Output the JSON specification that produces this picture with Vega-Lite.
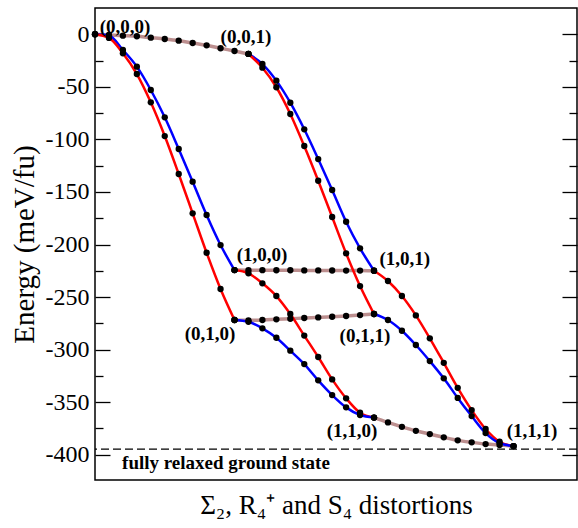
{
  "$schema": "https://vega.github.io/schema/vega-lite/v6.json",
  "width": 482,
  "height": 472,
  "autosize": {"type": "none"},
  "padding": {"left": 95, "top": 8, "right": 1, "bottom": 48},
  "background": "white",
  "config": {
    "view": {"stroke": "black", "strokeWidth": 1.5},
    "font": "Liberation Serif",
    "axis": {"labelFont": "Liberation Serif", "titleFont": "Liberation Serif", "labelColor": "black", "titleColor": "black", "tickColor": "black", "tickWidth": 1.3, "grid": false, "domain": false, "titleFontWeight": "normal"}
  },
  "datasets": {
    "paths": [
      {"e": "AB", "k": "g", "x": 0, "E": 0}, {"e": "AB", "k": "g", "x": 1, "E": -0.7}, {"e": "AB", "k": "g", "x": 2, "E": -1.3}, {"e": "AB", "k": "g", "x": 3, "E": -1.9}, {"e": "AB", "k": "g", "x": 4, "E": -3.2}, {"e": "AB", "k": "g", "x": 5, "E": -4.5}, {"e": "AB", "k": "g", "x": 6, "E": -6.1}, {"e": "AB", "k": "g", "x": 7, "E": -8.3}, {"e": "AB", "k": "g", "x": 8, "E": -10.5}, {"e": "AB", "k": "g", "x": 9, "E": -13.3}, {"e": "AB", "k": "g", "x": 10, "E": -15.9}, {"e": "AB", "k": "g", "x": 11, "E": -18.7},
      {"e": "AC", "k": "b", "x": 0, "E": 0}, {"e": "AC", "k": "b", "x": 1, "E": -1.1}, {"e": "AC", "k": "b", "x": 2, "E": -14.9}, {"e": "AC", "k": "b", "x": 3, "E": -30.8}, {"e": "AC", "k": "b", "x": 4, "E": -53.0}, {"e": "AC", "k": "b", "x": 5, "E": -79.0}, {"e": "AC", "k": "b", "x": 6, "E": -109.1}, {"e": "AC", "k": "b", "x": 7, "E": -140.2}, {"e": "AC", "k": "b", "x": 8, "E": -171.9}, {"e": "AC", "k": "b", "x": 9, "E": -200.5}, {"e": "AC", "k": "b", "x": 10, "E": -224.3},
      {"e": "AD", "k": "r", "x": 0, "E": 0}, {"e": "AD", "k": "r", "x": 1, "E": -3.5}, {"e": "AD", "k": "r", "x": 2, "E": -18.1}, {"e": "AD", "k": "r", "x": 3, "E": -37.8}, {"e": "AD", "k": "r", "x": 4, "E": -64.7}, {"e": "AD", "k": "r", "x": 5, "E": -96.8}, {"e": "AD", "k": "r", "x": 6, "E": -132.9}, {"e": "AD", "k": "r", "x": 7, "E": -170.3}, {"e": "AD", "k": "r", "x": 8, "E": -207.8}, {"e": "AD", "k": "r", "x": 9, "E": -242.3}, {"e": "AD", "k": "r", "x": 10, "E": -271.8},
      {"e": "BE", "k": "b", "x": 11, "E": -18.7}, {"e": "BE", "k": "b", "x": 12, "E": -28.3}, {"e": "BE", "k": "b", "x": 13, "E": -44.1}, {"e": "BE", "k": "b", "x": 14, "E": -65.1}, {"e": "BE", "k": "b", "x": 15, "E": -90.4}, {"e": "BE", "k": "b", "x": 16, "E": -118.7}, {"e": "BE", "k": "b", "x": 17, "E": -148.1}, {"e": "BE", "k": "b", "x": 18, "E": -178.3}, {"e": "BE", "k": "b", "x": 19, "E": -203.6}, {"e": "BE", "k": "b", "x": 20, "E": -224.9},
      {"e": "BF", "k": "r", "x": 11, "E": -18.7}, {"e": "BF", "k": "r", "x": 12, "E": -31.8}, {"e": "BF", "k": "r", "x": 13, "E": -50.4}, {"e": "BF", "k": "r", "x": 14, "E": -75.8}, {"e": "BF", "k": "r", "x": 15, "E": -106.3}, {"e": "BF", "k": "r", "x": 16, "E": -139.3}, {"e": "BF", "k": "r", "x": 17, "E": -173.8}, {"e": "BF", "k": "r", "x": 18, "E": -208.4}, {"e": "BF", "k": "r", "x": 19, "E": -239.5}, {"e": "BF", "k": "r", "x": 20, "E": -266.1},
      {"e": "CE", "k": "g", "x": 10, "E": -224.3}, {"e": "CE", "k": "g", "x": 11, "E": -224.4}, {"e": "CE", "k": "g", "x": 12, "E": -224.4}, {"e": "CE", "k": "g", "x": 13, "E": -224.5}, {"e": "CE", "k": "g", "x": 14, "E": -224.5}, {"e": "CE", "k": "g", "x": 15, "E": -224.6}, {"e": "CE", "k": "g", "x": 16, "E": -224.6}, {"e": "CE", "k": "g", "x": 17, "E": -224.7}, {"e": "CE", "k": "g", "x": 18, "E": -224.8}, {"e": "CE", "k": "g", "x": 19, "E": -224.8}, {"e": "CE", "k": "g", "x": 20, "E": -224.9},
      {"e": "DF", "k": "g", "x": 10, "E": -271.8}, {"e": "DF", "k": "g", "x": 11, "E": -272.1}, {"e": "DF", "k": "g", "x": 12, "E": -271.8}, {"e": "DF", "k": "g", "x": 13, "E": -271.2}, {"e": "DF", "k": "g", "x": 14, "E": -270.6}, {"e": "DF", "k": "g", "x": 15, "E": -269.9}, {"e": "DF", "k": "g", "x": 16, "E": -269.3}, {"e": "DF", "k": "g", "x": 17, "E": -268.7}, {"e": "DF", "k": "g", "x": 18, "E": -268.0}, {"e": "DF", "k": "g", "x": 19, "E": -267.1}, {"e": "DF", "k": "g", "x": 20, "E": -266.1},
      {"e": "CG", "k": "r", "x": 10, "E": -224.3}, {"e": "CG", "k": "r", "x": 11, "E": -227.4}, {"e": "CG", "k": "r", "x": 12, "E": -236.9}, {"e": "CG", "k": "r", "x": 13, "E": -249.0}, {"e": "CG", "k": "r", "x": 14, "E": -266.1}, {"e": "CG", "k": "r", "x": 15, "E": -286.6}, {"e": "CG", "k": "r", "x": 16, "E": -307.0}, {"e": "CG", "k": "r", "x": 17, "E": -328.3}, {"e": "CG", "k": "r", "x": 18, "E": -346.3}, {"e": "CG", "k": "r", "x": 19, "E": -360.0}, {"e": "CG", "k": "r", "x": 20, "E": -364.6},
      {"e": "DG", "k": "b", "x": 10, "E": -271.8}, {"e": "DG", "k": "b", "x": 11, "E": -273.5}, {"e": "DG", "k": "b", "x": 12, "E": -279.7}, {"e": "DG", "k": "b", "x": 13, "E": -288.7}, {"e": "DG", "k": "b", "x": 14, "E": -301.0}, {"e": "DG", "k": "b", "x": 15, "E": -313.7}, {"e": "DG", "k": "b", "x": 16, "E": -329.2}, {"e": "DG", "k": "b", "x": 17, "E": -343.2}, {"e": "DG", "k": "b", "x": 18, "E": -354.9}, {"e": "DG", "k": "b", "x": 19, "E": -362.2}, {"e": "DG", "k": "b", "x": 20, "E": -364.6},
      {"e": "GH", "k": "g", "x": 20, "E": -364.6}, {"e": "GH", "k": "g", "x": 21, "E": -369.2}, {"e": "GH", "k": "g", "x": 22, "E": -373.4}, {"e": "GH", "k": "g", "x": 23, "E": -377.2}, {"e": "GH", "k": "g", "x": 24, "E": -380.3}, {"e": "GH", "k": "g", "x": 25, "E": -383.4}, {"e": "GH", "k": "g", "x": 26, "E": -386.3}, {"e": "GH", "k": "g", "x": 27, "E": -388.2}, {"e": "GH", "k": "g", "x": 28, "E": -389.8}, {"e": "GH", "k": "g", "x": 29, "E": -390.8}, {"e": "GH", "k": "g", "x": 30, "E": -391.7},
      {"e": "EH", "k": "r", "x": 20, "E": -224.9}, {"e": "EH", "k": "r", "x": 21, "E": -234.7}, {"e": "EH", "k": "r", "x": 22, "E": -249.0}, {"e": "EH", "k": "r", "x": 23, "E": -267.4}, {"e": "EH", "k": "r", "x": 24, "E": -289.2}, {"e": "EH", "k": "r", "x": 25, "E": -312.5}, {"e": "EH", "k": "r", "x": 26, "E": -336.3}, {"e": "EH", "k": "r", "x": 27, "E": -357.5}, {"e": "EH", "k": "r", "x": 28, "E": -375.5}, {"e": "EH", "k": "r", "x": 29, "E": -387.6}, {"e": "EH", "k": "r", "x": 30, "E": -391.7},
      {"e": "FH", "k": "b", "x": 20, "E": -266.1}, {"e": "FH", "k": "b", "x": 21, "E": -271.8}, {"e": "FH", "k": "b", "x": 22, "E": -282.0}, {"e": "FH", "k": "b", "x": 23, "E": -295.6}, {"e": "FH", "k": "b", "x": 24, "E": -310.9}, {"e": "FH", "k": "b", "x": 25, "E": -327.3}, {"e": "FH", "k": "b", "x": 26, "E": -345.9}, {"e": "FH", "k": "b", "x": 27, "E": -363.2}, {"e": "FH", "k": "b", "x": 28, "E": -379.4}, {"e": "FH", "k": "b", "x": 29, "E": -388.9}, {"e": "FH", "k": "b", "x": 30, "E": -391.7}
    ],
    "labels": [
      {"t": "(0,0,0)", "x": 2.15, "E": 7},
      {"t": "(0,0,1)", "x": 10.82, "E": -2.6},
      {"t": "(1,0,0)", "x": 11.97, "E": -210},
      {"t": "(1,0,1)", "x": 22.2, "E": -213.8},
      {"t": "(0,1,1)", "x": 19.35, "E": -287},
      {"t": "(0,1,0)", "x": 8.24, "E": -285.1},
      {"t": "(1,1,0)", "x": 18.42, "E": -377.4},
      {"t": "(1,1,1)", "x": 31.33, "E": -377.4}
    ],
    "ground": [{"t": "fully relaxed ground state", "x": 1.94, "E": -394.6, "lE": -407.9}]
  },
  "resolve": {"axis": {"y": "independent"}},
  "layer": [
    {
      "data": {"name": "paths"},
      "transform": [{"filter": "datum.k === 'g'"}],
      "mark": {"type": "line", "interpolate": "monotone", "strokeWidth": 3.5, "color": "#bc8f8f"},
      "encoding": {
        "x": {"field": "x", "type": "quantitative", "scale": {"domain": [0, 34.55], "nice": false, "zero": false}, "axis": {"title": "Σ₂, R₄⁺ and S₄ distortions", "labels": false, "ticks": false, "domain": false, "titleFont": "Liberation Serif", "titleFontSize": 27, "titlePadding": 12}},
        "y": {"field": "E", "type": "quantitative", "scale": {"domain": [-424, 25], "nice": false, "zero": false}, "axis": {"orient": "left", "values": [0, -50, -100, -150, -200, -250, -300, -350, -400], "labelExpr": "'' + datum.value", "tickSize": -15, "labelPadding": 21, "labelFont": "Liberation Serif", "labelFontSize": 24, "title": "Energy (meV/fu)", "titleFont": "Liberation Serif", "titleFontSize": 29, "titlePadding": 6}},
        "detail": {"field": "e"}
      }
    },
    {
      "data": {"name": "paths"},
      "transform": [{"filter": "datum.k !== 'g'"}],
      "mark": {"type": "line", "interpolate": "monotone", "strokeWidth": 2.5},
      "encoding": {
        "x": {"field": "x", "type": "quantitative", "axis": {"title": "Σ₂, R₄⁺ and S₄ distortions", "labels": false, "ticks": false, "domain": false, "titleFont": "Liberation Serif", "titleFontSize": 27, "titlePadding": 12}},
        "y": {"field": "E", "type": "quantitative", "axis": {"orient": "left", "values": [-25, -75, -125, -175, -225, -275, -325, -375, -425], "labels": false, "tickSize": -8, "title": null}},
        "color": {"field": "k", "type": "nominal", "scale": {"domain": ["r", "b"], "range": ["#ff0000", "#0000ff"]}, "legend": null},
        "detail": {"field": "e"}
      }
    },
    {
      "data": {"name": "paths"},
      "mark": {"type": "circle", "size": 40, "color": "black", "opacity": 1},
      "encoding": {
        "x": {"field": "x", "type": "quantitative", "axis": {"title": "Σ₂, R₄⁺ and S₄ distortions", "labels": false, "ticks": false, "domain": false, "titleFont": "Liberation Serif", "titleFontSize": 27, "titlePadding": 12}},
        "y": {"field": "E", "type": "quantitative", "axis": {"orient": "right", "values": [0, -50, -100, -150, -200, -250, -300, -350, -400], "labels": false, "tickSize": -15, "title": null}}
      }
    },
    {
      "data": {"name": "labels"},
      "mark": {"type": "text", "font": "Liberation Serif", "fontWeight": "bold", "fontSize": 19, "color": "black", "align": "center", "baseline": "middle"},
      "encoding": {
        "x": {"field": "x", "type": "quantitative", "axis": {"title": "Σ₂, R₄⁺ and S₄ distortions", "labels": false, "ticks": false, "domain": false, "titleFont": "Liberation Serif", "titleFontSize": 27, "titlePadding": 12}},
        "y": {"field": "E", "type": "quantitative", "axis": {"orient": "right", "values": [-25, -75, -125, -175, -225, -275, -325, -375, -425], "labels": false, "tickSize": -8, "title": null}},
        "text": {"field": "t"}
      }
    },
    {
      "data": {"name": "ground"},
      "mark": {"type": "rule", "strokeDash": [8, 4], "strokeWidth": 1.3, "color": "black"},
      "encoding": {
        "y": {"field": "E", "type": "quantitative", "axis": null}
      }
    },
    {
      "data": {"name": "ground"},
      "mark": {"type": "text", "font": "Liberation Serif", "fontWeight": "bold", "fontSize": 19, "color": "black", "align": "left", "baseline": "middle"},
      "encoding": {
        "x": {"field": "x", "type": "quantitative", "axis": {"title": "Σ₂, R₄⁺ and S₄ distortions", "labels": false, "ticks": false, "domain": false, "titleFont": "Liberation Serif", "titleFontSize": 27, "titlePadding": 12}},
        "y": {"field": "lE", "type": "quantitative", "axis": null},
        "text": {"field": "t"}
      }
    }
  ]
}
